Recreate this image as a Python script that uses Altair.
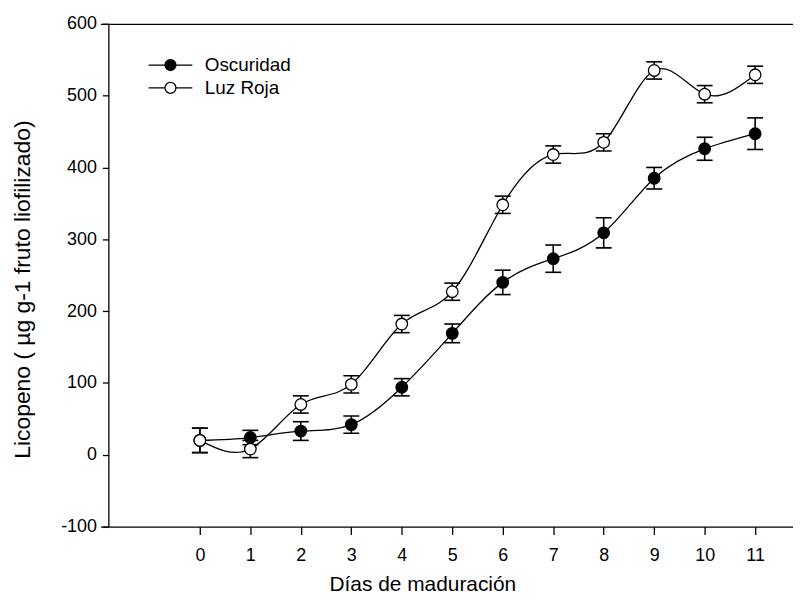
import altair as alt
import pandas as pd

# Data
days = list(range(12))
series_names = ["Oscuridad", "Luz Roja"]
osc = [20, 24, 33, 42, 94, 169, 240, 273, 309, 385, 426, 447]
osc_err = [17, 10, 13, 12, 12, 13, 17, 19, 21, 15, 16, 22]
luz = [20, 8, 70, 98, 182, 227, 348, 418, 435, 535, 502, 529]
luz_err = [17, 12, 12, 12, 12, 12, 12, 12, 12, 12, 12, 12]
y_ticks = [-100, 0, 100, 200, 300, 400, 500, 600]

rows = []
for name, vals, errs in [(series_names[0], osc, osc_err), (series_names[1], luz, luz_err)]:
    for d, v, e in zip(days, vals, errs):
        rows.append({"dia": d, "serie": name, "valor": v, "lo": v - e, "hi": v + e})
df = pd.DataFrame(rows)

FONT = "Liberation Sans"
xscale = alt.Scale(domain=[-1.97, 11.75], nice=False, zero=False)
yscale = alt.Scale(domain=[-100, 600], nice=False, zero=False)

base = alt.Chart(df)

x_main = alt.X(
    "dia:Q", scale=xscale,
    axis=alt.Axis(values=days, format="d", title="Días de maduración", grid=False,
                  domainColor="black", tickColor="black", tickSize=8, domainWidth=1.3, tickWidth=1.3,
                  labelFontSize=18, titleFontSize=21, labelFont=FONT, titleFont=FONT,
                  labelColor="black", titleColor="black", labelPadding=12, titlePadding=9,
                  titleFontWeight="normal", labelFlush=False, titleX=324, titleAlign="center"),
)
y_main = alt.Y(
    "valor:Q", scale=yscale,
    axis=alt.Axis(values=y_ticks, labelExpr="'' + datum.value",
                  title="Licopeno ( µg g-1 fruto liofilizado)", offset=-8, grid=False,
                  domainColor="black", tickColor="black", tickSize=6, domainWidth=1.3, tickWidth=1.3,
                  labelFontSize=18, titleFontSize=23, labelFont=FONT, titleFont=FONT,
                  labelColor="black", titleColor="black", labelPadding=6, titlePadding=26,
                  titleFontWeight="normal", labelFlush=False, titleY=267, titleAlign="center"),
)

x_plain = alt.X("dia:Q", scale=xscale, axis=None)

rules = base.mark_rule(color="black", strokeWidth=1.6).encode(
    x=x_plain, y=alt.Y("lo:Q", scale=yscale, axis=None), y2="hi:Q"
)
caps_lo = base.mark_tick(orient="horizontal", size=16, thickness=1.6, color="black", opacity=1).encode(
    x=x_plain, y=alt.Y("lo:Q", scale=yscale, axis=None)
)
caps_hi = base.mark_tick(orient="horizontal", size=16, thickness=1.6, color="black", opacity=1).encode(
    x=x_plain, y=alt.Y("hi:Q", scale=yscale, axis=None)
)
lines = base.mark_line(interpolate="natural", color="black", strokeWidth=1.3).encode(
    x=x_plain, y=alt.Y("valor:Q", scale=yscale, axis=None), detail="serie:N"
)

legend_path = "M-3.67,0L-0.92,0M0.92,0L3.67,0M0.92,0A0.92,0.92,0,1,1,-0.92,0A0.92,0.92,0,1,1,0.92,0Z"

points = base.mark_point(filled=True, shape="circle", size=135, stroke="black", strokeWidth=1.3, opacity=1).encode(
    x=x_main, y=y_main,
    fill=alt.Fill(
        "serie:N",
        scale=alt.Scale(domain=series_names, range=["black", "white"]),
        legend=alt.Legend(title=None, orient="none", legendX=61, legendY=32, padding=0,
                          symbolType=legend_path, symbolSize=144, symbolStrokeColor="black",
                          symbolStrokeWidth=1.3, symbolOpacity=1,
                          labelFont=FONT, labelFontSize=19, labelColor="black",
                          labelOffset=25, rowPadding=3),
    ),
)

top_axis = base.mark_point(opacity=0).encode(
    x=alt.X("dia:Q", scale=xscale,
            axis=alt.Axis(orient="top", ticks=False, labels=False, title=None, grid=False,
                          domainColor="black", domainWidth=1.3)),
    y=alt.Y("valor:Q", scale=yscale, axis=None),
)

chart = alt.layer(rules, caps_lo, caps_hi, lines, points, top_axis).resolve_axis(
    x="independent", y="independent"
).properties(
    width=697, height=506,
    padding={"left": 93, "top": 14, "right": 0, "bottom": 73},
    autosize=alt.AutoSizeParams(type="none"),
).configure_view(strokeWidth=0)

chart.save("out.html", embed_options={"renderer": "svg", "actions": False})
